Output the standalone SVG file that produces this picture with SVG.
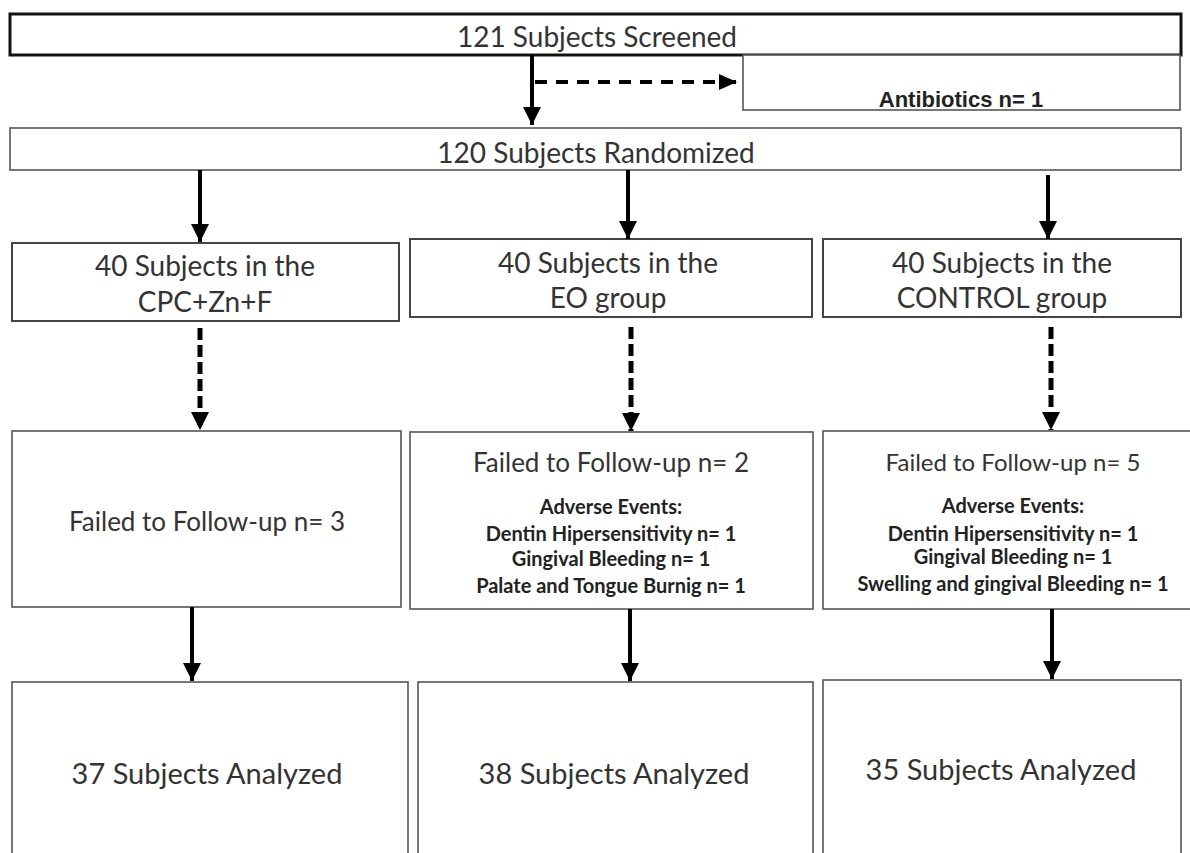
<svg xmlns="http://www.w3.org/2000/svg" width="1190" height="853" viewBox="0 0 1190 853">
<style>
.box{fill:#fff;stroke:#555;stroke-width:1.6}
.gbox{fill:#fff;stroke:#444;stroke-width:2}
.tbox{fill:#fff;stroke:#111;stroke-width:3}
.t{font-family:Lato,"Liberation Sans",sans-serif;font-size:28px;fill:#333;text-anchor:middle}
.f{font-size:26px}
.an{font-size:29px}
.s{font-family:Lato,"Liberation Sans",sans-serif;font-size:20px;font-weight:bold;fill:#222;text-anchor:middle}
.ab{font-family:"Liberation Sans",Arial,sans-serif;font-size:22px;font-weight:bold;fill:#222;text-anchor:middle}
.sol{stroke:#000;stroke-width:4;fill:none}
.dv{stroke:#000;stroke-width:5;fill:none;stroke-dasharray:12 5}
.dh{stroke:#000;stroke-width:4;fill:none;stroke-dasharray:12 9}
</style>
<defs>
<marker id="ah" markerUnits="userSpaceOnUse" markerWidth="20" markerHeight="18" refX="18" refY="9" orient="auto" viewBox="0 0 20 18">
<path d="M0,0 L18,9 L0,18 z" fill="#000"/>
</marker>
<marker id="ahs" markerUnits="userSpaceOnUse" markerWidth="20" markerHeight="16" refX="18" refY="8" orient="auto" viewBox="0 0 20 16">
<path d="M0,0 L18,8 L0,16 z" fill="#000"/>
</marker>
</defs>
<g id="screened"><rect class="tbox" x="10" y="14" width="1171" height="41"/><text class="t" x="597" y="47">121 Subjects Screened</text></g>
<g id="antibiotics"><rect class="box" x="743" y="55" width="437" height="55"/><text class="ab" x="961" y="107">Antibiotics n= 1</text></g>
<g id="randomized"><rect class="box" x="10" y="128" width="1171" height="42"/><text class="t" x="596" y="163">120 Subjects Randomized</text></g>
<g id="g1"><rect class="gbox" x="12" y="243" width="387" height="78"/><text class="t" x="205" y="276">40 Subjects in the</text><text class="t" x="205" y="312">CPC+Zn+F</text></g>
<g id="g2"><rect class="gbox" x="410" y="239" width="402" height="78"/><text class="t" x="608" y="273">40 Subjects in the</text><text class="t" x="608" y="308">EO group</text></g>
<g id="g3"><rect class="gbox" x="823" y="239" width="358" height="78"/><text class="t" x="1002" y="273">40 Subjects in the</text><text class="t" x="1002" y="308">CONTROL group</text></g>
<g id="f1"><rect class="box" x="12" y="431" width="389" height="176"/><text class="t f" x="207" y="531">Failed to Follow-up n= 3</text></g>
<g id="f2"><rect class="box" x="410" y="432" width="403" height="177"/><text class="t f" x="611" y="472">Failed to Follow-up n= 2</text>
<text class="s" x="611" y="514">Adverse Events:</text><text class="s" x="611" y="541">Dentin Hipersensitivity n= 1</text><text class="s" x="611" y="566">Gingival Bleeding n= 1</text><text class="s" x="611" y="593">Palate and Tongue Burnig n= 1</text></g>
<g id="f3"><rect class="box" x="823" y="431" width="370" height="178"/><text class="t" x="1013" y="471" style="font-size:24px">Failed to Follow-up n= 5</text>
<text class="s" x="1013" y="513">Adverse Events:</text><text class="s" x="1013" y="541">Dentin Hipersensitivity n= 1</text><text class="s" x="1013" y="564">Gingival Bleeding n= 1</text><text class="s" x="1013" y="591">Swelling and gingival Bleeding n= 1</text></g>
<g id="a1"><rect class="box" x="12" y="682" width="396" height="180"/><text class="t an" x="207" y="784">37 Subjects Analyzed</text></g>
<g id="a2"><rect class="box" x="418" y="682" width="395" height="180"/><text class="t an" x="614" y="784">38 Subjects Analyzed</text></g>
<g id="a3"><rect class="box" x="823" y="680" width="358" height="182"/><text class="t an" x="1001" y="780">35 Subjects Analyzed</text></g>
<g id="connectors">
<line class="sol" x1="532" y1="55" x2="532" y2="125" marker-end="url(#ah)"/>
<line class="dh" x1="535" y1="82" x2="737" y2="82" marker-end="url(#ahs)"/>
<line class="sol" x1="200" y1="170" x2="200" y2="242" marker-end="url(#ah)"/>
<line class="sol" x1="628" y1="170" x2="628" y2="239" marker-end="url(#ah)"/>
<line class="sol" x1="1048" y1="175" x2="1048" y2="239" marker-end="url(#ah)"/>
<line class="dv" x1="200" y1="328" x2="200" y2="430" marker-end="url(#ah)"/>
<line class="dv" x1="631" y1="327" x2="631" y2="431" marker-end="url(#ah)"/>
<line class="dv" x1="1051" y1="327" x2="1051" y2="430" marker-end="url(#ah)"/>
<line class="sol" x1="192" y1="607" x2="192" y2="681" marker-end="url(#ah)"/>
<line class="sol" x1="630" y1="609" x2="630" y2="681" marker-end="url(#ah)"/>
<line class="sol" x1="1052" y1="609" x2="1052" y2="679" marker-end="url(#ah)"/>
</g>
</svg>
